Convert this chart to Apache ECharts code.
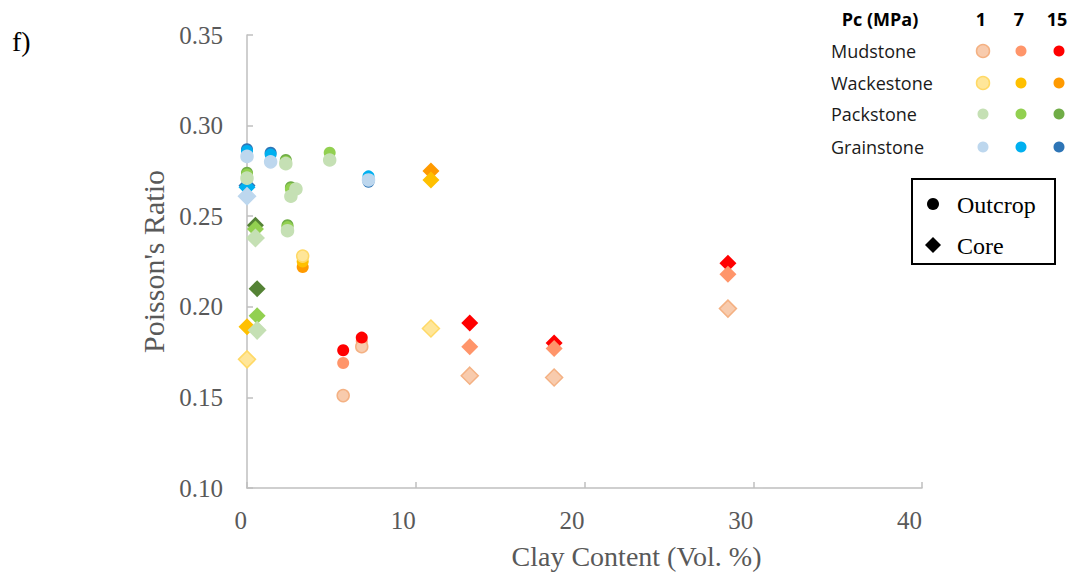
<!DOCTYPE html>
<html>
<head>
<meta charset="utf-8">
<script src="https://cdn.jsdelivr.net/npm/echarts@6/dist/echarts.min.js"></script>
<style>
html,body{margin:0;padding:0;background:#fff;}
#chart{width:1070px;height:579px;}
</style>
</head>
<body>
<div id="chart"></div>
<script>
// ---- data (Clay content %, Poisson's ratio at Pc = 1, 7, 15 MPa) ----
const xTicks = [0, 10, 20, 30, 40];
const yTicks = [0.10, 0.15, 0.20, 0.25, 0.30, 0.35];
const pcLevels = ['1', '7', '15'];
const rockTypes = ['Mudstone', 'Wackestone', 'Packstone', 'Grainstone'];

// Mudstone
const mudOutcropX = [5.7, 6.8];
const mudOutcropPc1 = [0.151, 0.178];
const mudOutcropPc7 = [0.169, 0.181];
const mudOutcropPc15 = [0.176, 0.183];
const mudCoreX = [13.2, 18.2, 28.5];
const mudCorePc1 = [0.162, 0.161, 0.199];
const mudCorePc7 = [0.178, 0.177, 0.218];
const mudCorePc15 = [0.191, 0.180, 0.224];

// Wackestone
const wackOutcropX = [3.3];
const wackOutcropPc1 = [0.228];
const wackOutcropPc7 = [0.225];
const wackOutcropPc15 = [0.222];
const wackCoreX = [0.0, 10.9];
const wackCorePc1 = [0.171, 0.188];
const wackCorePc7 = [0.189, 0.270];
const wackCorePc15 = [null, 0.275];

// Packstone
const packOutcropX = [0.0, 2.3, 2.6, 2.9, 2.4, 4.9];
const packOutcropPc1 = [0.271, 0.279, 0.261, 0.265, 0.242, 0.281];
const packOutcropPc7 = [0.273, 0.280, 0.265, null, 0.244, 0.285];
const packOutcropPc15 = [0.274, 0.281, 0.266, null, 0.245, null];
const packCoreX = [0.5, 0.6];
const packCorePc1 = [0.238, 0.187];
const packCorePc7 = [0.243, 0.195];
const packCorePc15 = [0.245, 0.210];

// Grainstone
const grainOutcropX = [0.0, 1.4, 7.2];
const grainOutcropPc1 = [0.283, 0.280, 0.270];
const grainOutcropPc7 = [0.286, 0.284, 0.272];
const grainOutcropPc15 = [0.287, 0.285, 0.269];
const grainCoreX = [0.0];
const grainCorePc1 = [0.261];
const grainCorePc7 = [0.266];
const grainCorePc15 = [0.267];

// ---- styles ----
const colors = {
  Mudstone:   {pc1: '#F8CBAD', pc1b: '#F4B183', pc7: '#FF956A', pc15: '#FF0000', pc15core: '#FF0000'},
  Wackestone: {pc1: '#FFE699', pc1b: '#FFD966', pc7: '#FFC000', pc15: '#FF9A00', pc15core: '#FF9A00'},
  Packstone:  {pc1: '#C5E0B4', pc1b: '#C5E0B4', pc7: '#92D050', pc15: '#70AD47', pc15core: '#548235'},
  Grainstone: {pc1: '#BDD7EE', pc1b: '#BDD7EE', pc7: '#00B0F0', pc15: '#2E75B6', pc15core: '#2E75B6'}
};

const groups = [
  {rock: 'Mudstone', type: 'Outcrop', x: mudOutcropX, pc1: mudOutcropPc1, pc7: mudOutcropPc7, pc15: mudOutcropPc15},
  {rock: 'Wackestone', type: 'Outcrop', x: wackOutcropX, pc1: wackOutcropPc1, pc7: wackOutcropPc7, pc15: wackOutcropPc15},
  {rock: 'Packstone', type: 'Outcrop', x: packOutcropX, pc1: packOutcropPc1, pc7: packOutcropPc7, pc15: packOutcropPc15},
  {rock: 'Grainstone', type: 'Outcrop', x: grainOutcropX, pc1: grainOutcropPc1, pc7: grainOutcropPc7, pc15: grainOutcropPc15},
  {rock: 'Mudstone', type: 'Core', x: mudCoreX, pc1: mudCorePc1, pc7: mudCorePc7, pc15: mudCorePc15},
  {rock: 'Wackestone', type: 'Core', x: wackCoreX, pc1: wackCorePc1, pc7: wackCorePc7, pc15: wackCorePc15},
  {rock: 'Packstone', type: 'Core', x: packCoreX, pc1: packCorePc1, pc7: packCorePc7, pc15: packCorePc15},
  {rock: 'Grainstone', type: 'Core', x: grainCoreX, pc1: grainCorePc1, pc7: grainCorePc7, pc15: grainCorePc15}
];

const series = [];
['pc15', 'pc7', 'pc1'].forEach(function (pc) {
  groups.forEach(function (g) {
    const data = [];
    g.x.forEach(function (xv, i) {
      if (g[pc][i] !== null) data.push([xv, g[pc][i]]);
    });
    const c = colors[g.rock];
    const isCore = g.type === 'Core';
    const fill = (pc === 'pc15' && isCore) ? c.pc15core : c[pc];
    const hasBorder = pc === 'pc1';
    // mudstone outcrop at Pc 15 sits visually on top in the reference
    const z = (g.rock === 'Mudstone' && g.type === 'Outcrop' && pc === 'pc15') ? 3 : 2;
    series.push({
      name: g.rock + ' ' + g.type + ' Pc ' + pc.slice(2),
      type: 'scatter',
      clip: false,
      z: z,
      symbol: isCore ? 'diamond' : 'circle',
      symbolSize: isCore ? 17 : 12,
      itemStyle: {
        color: fill,
        borderColor: hasBorder ? c.pc1b : fill,
        borderWidth: hasBorder ? 1.5 : 0,
        opacity: 1
      },
      emphasis: {disabled: true},
      data: data
    });
  });
});

// ---- legend graphics ----
const legendX = [983, 1021, 1059];
const legendRowsY = [51, 83, 114, 147];
const graphics = [];
graphics.push({type: 'text', left: 12, top: 27, style: {text: 'f)', font: '28px "Liberation Serif"', fill: '#000'}});
graphics.push({type: 'text', x: 880, y: 19, style: {text: 'Pc (MPa)', font: 'bold 18px "Open Sans"', fill: '#000', align: 'center', verticalAlign: 'middle'}});
pcLevels.forEach(function (p, i) {
  graphics.push({type: 'text', x: legendX[i] - 2, y: 19, style: {text: p, font: 'bold 18px "Open Sans"', fill: '#000', align: 'center', verticalAlign: 'middle'}});
});
rockTypes.forEach(function (r, j) {
  graphics.push({type: 'text', x: 831, y: legendRowsY[j], style: {text: r, font: '18px "Open Sans"', fill: '#1a1a1a', align: 'left', verticalAlign: 'middle'}});
  const c = colors[r];
  ['pc1', 'pc7', 'pc15'].forEach(function (pc, i) {
    const big = pc === 'pc1' && (r === 'Mudstone' || r === 'Wackestone');
    graphics.push({type: 'circle', shape: {cx: legendX[i], cy: legendRowsY[j], r: big ? 6.5 : 5.5},
      style: {fill: c[pc], stroke: pc === 'pc1' ? c.pc1b : null, lineWidth: big ? 1.5 : 0}});
  });
});
// outcrop / core key box
graphics.push({type: 'rect', shape: {x: 912, y: 179, width: 143, height: 85}, style: {fill: '#fff', stroke: '#000', lineWidth: 2}});
graphics.push({type: 'circle', shape: {cx: 933, cy: 204, r: 6}, style: {fill: '#000'}});
graphics.push({type: 'text', x: 957, y: 205, style: {text: 'Outcrop', font: '24px "Liberation Serif"', fill: '#000', align: 'left', verticalAlign: 'middle'}});
graphics.push({type: 'polygon', shape: {points: [[933, 237], [941, 245], [933, 253], [925, 245]]}, style: {fill: '#000'}});
graphics.push({type: 'text', x: 957, y: 246, style: {text: 'Core', font: '24px "Liberation Serif"', fill: '#000', align: 'left', verticalAlign: 'middle'}});

const chart = echarts.init(document.getElementById('chart'), null, {renderer: 'svg'});
chart.setOption({
  animation: false,
  backgroundColor: '#fff',
  grid: {left: 247, right: 148, top: 35, bottom: 91, containLabel: false},
  xAxis: {
    type: 'value', min: xTicks[0], max: xTicks[xTicks.length - 1], interval: 10,
    name: 'Clay Content (Vol. %)', nameLocation: 'middle', nameGap: 54,
    nameTextStyle: {fontFamily: 'Liberation Serif', fontSize: 28, color: '#595959', padding: [0, 0, 0, 104]},
    axisLine: {show: true, lineStyle: {color: '#BFBFBF', width: 1.5}},
    axisTick: {show: true, inside: true, length: 6, lineStyle: {color: '#BFBFBF', width: 1.5}},
    splitLine: {show: false},
    axisLabel: {fontFamily: 'Liberation Serif', fontSize: 25, color: '#595959', margin: 20, align: 'right'}
  },
  yAxis: {
    type: 'value', min: yTicks[0], max: yTicks[yTicks.length - 1], interval: 0.05,
    name: "Poisson's Ratio", nameLocation: 'middle', nameGap: 75,
    nameTextStyle: {fontFamily: 'Liberation Serif', fontSize: 30, color: '#595959'},
    axisLine: {show: true, lineStyle: {color: '#BFBFBF', width: 1.5}},
    axisTick: {show: true, inside: true, length: 6, lineStyle: {color: '#BFBFBF', width: 1.5}},
    splitLine: {show: false},
    axisLabel: {fontFamily: 'Liberation Serif', fontSize: 25, color: '#595959', margin: 24,
      formatter: function (v) { return v.toFixed(2); }}
  },
  series: series,
  graphic: graphics
});
</script>
</body>
</html>
